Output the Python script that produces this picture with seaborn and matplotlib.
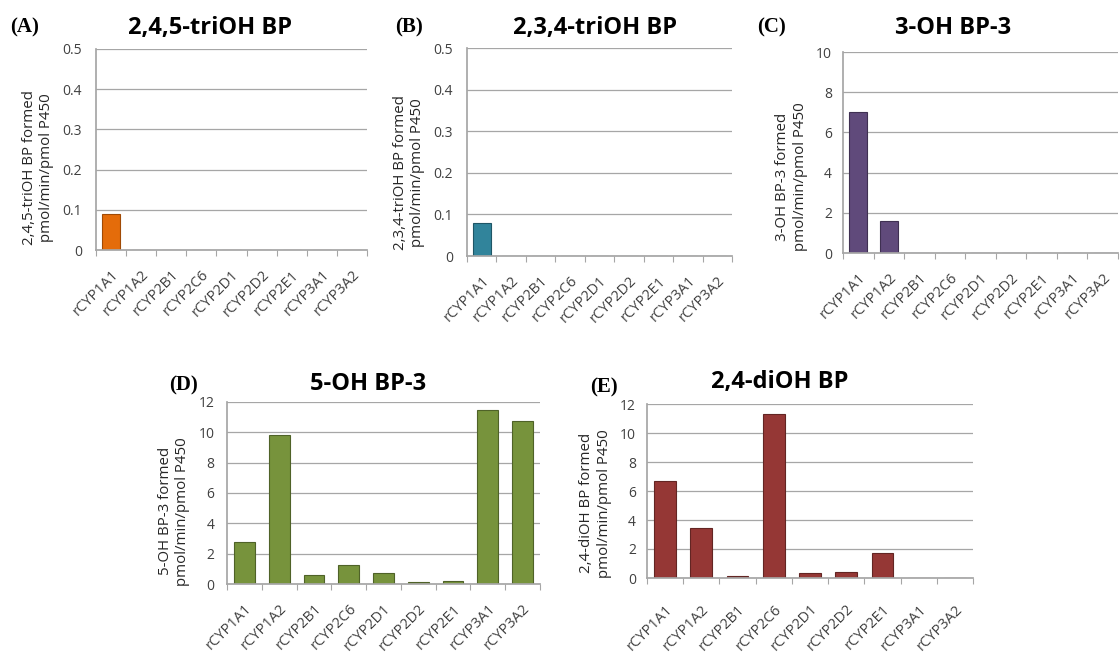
import matplotlib
matplotlib.use("Agg")
import matplotlib.pyplot as plt
import seaborn as sns
import pandas as pd
import numpy as np

categories = ["rCYP1A1", "rCYP1A2", "rCYP2B1", "rCYP2C6", "rCYP2D1",
              "rCYP2D2", "rCYP2E1", "rCYP3A1", "rCYP3A2"]

vals_245triOH = [0.09, 0, 0, 0, 0, 0, 0, 0, 0]
vals_234triOH = [0.079, 0, 0, 0, 0, 0, 0, 0, 0]
vals_3OH = [7.0, 1.6, 0, 0, 0, 0, 0, 0, 0]
vals_5OH = [2.74, 9.85, 0.57, 1.27, 0.75, 0.13, 0.22, 11.47, 10.77]
vals_24diOH = [6.66, 3.48, 0.12, 11.31, 0.35, 0.44, 1.75, 0, 0]

titles = ["2,4,5-triOH BP", "2,3,4-triOH BP", "3-OH BP-3", "5-OH BP-3", "2,4-diOH BP"]
panel_tags = ["(A)", "(B)", "(C)", "(D)", "(E)"]
ylabels = ["2,4,5-triOH BP formed\npmol/min/pmol P450",
           "2,3,4-triOH BP formed\npmol/min/pmol P450",
           "3-OH BP-3 formed\npmol/min/pmol P450",
           "5-OH BP-3 formed\npmol/min/pmol P450",
           "2,4-diOH BP formed\npmol/min/pmol P450"]
colors = ["#E46C0A", "#31849B", "#604A7B", "#77933C", "#953735"]
edges = ["#A04A05", "#1F5666", "#3F3052", "#4F6228", "#632523"]
ymaxes = [0.5, 0.5, 10, 12, 12]
ysteps = [0.1, 0.1, 2, 2, 2]
series = [vals_245triOH, vals_234triOH, vals_3OH, vals_5OH, vals_24diOH]

# pixel boxes: x0, x1, ytop, ybottom
boxes = [(96, 367, 49, 250), (467, 732, 48, 256), (843, 1118, 52, 253),
         (227, 540, 402, 584), (647, 973, 404, 578)]
title_x = [210, 595, 953, 368, 780]
title_y = [28, 28, 28, 384, 382]
tag_x = [10, 395, 757, 169, 590]
tag_y = [27, 27, 27, 385, 387]
ypads = [10, 10, 8, 9, 8]
xpads = [12.5, 12.5, 12.5, 12.5, 17]
ylab_pos = [0.41, 0.40, 0.38, 0.40, 0.43]

sns.set_theme(style="white")
plt.rcParams['font.family'] = ['Open Sans', 'DejaVu Sans']

W, H = 1120, 664
fig = plt.figure(figsize=(W / 100, H / 100), dpi=100)

for i in range(5):
    x0, x1, yt, yb = boxes[i]
    ax = fig.add_axes([x0 / W, 1 - yb / H, (x1 - x0) / W, (yb - yt) / H])
    df = pd.DataFrame({"cat": categories, "val": series[i]})
    sns.barplot(data=df, x="cat", y="val", ax=ax, color=colors[i],
                width=0.6, edgecolor=edges[i], linewidth=0.8, saturation=1)
    ax.set_xlim(-0.5, len(categories) - 0.5)
    ax.set_ylim(0, ymaxes[i])
    yt_vals = np.arange(0, ymaxes[i] + ysteps[i] / 2, ysteps[i])
    ax.set_yticks(yt_vals)
    if ymaxes[i] < 1:
        ax.set_yticklabels(["0"] + [f"{v:.1f}" for v in yt_vals[1:]])
    else:
        ax.set_yticklabels([f"{int(round(v))}" for v in yt_vals])
    ax.yaxis.grid(True, color="#A6A6A6", linewidth=0.9)
    ax.set_axisbelow(True)
    for s in ["top", "right"]:
        ax.spines[s].set_visible(False)
    ax.spines["left"].set_color("#A6A6A6")
    ax.spines["bottom"].set_color("#A6A6A6")
    ax.set_xticks(range(len(categories)))
    ax.set_xticklabels(categories, rotation=45, ha="right", rotation_mode="anchor",
                       fontsize=10.5, color="#404040")
    ax.set_xticks(np.arange(-0.5, len(categories), 1.0), minor=True)
    ax.tick_params(axis="x", which="major", length=0, pad=xpads[i])
    ax.tick_params(axis="x", which="minor", length=4, color="#A6A6A6", width=0.8,
                   bottom=True)
    ax.tick_params(axis="y", length=0, labelsize=10, labelcolor="#404040",
                   pad=ypads[i])
    ax.set_xlabel("")
    ax.set_ylabel(ylabels[i], fontsize=10.8, color="#262626", labelpad=6,
                  linespacing=1.2)
    ax.yaxis.label.set_y(ylab_pos[i])
    fig.text(title_x[i] / W, 1 - title_y[i] / H, titles[i], ha="center", va="center",
             fontsize=17, fontweight="bold", color="black")
    fig.text(tag_x[i] / W, 1 - tag_y[i] / H, panel_tags[i], ha="left",
             va="center", fontsize=15, fontweight="bold", color="black",
             family="Liberation Serif")

fig.savefig("out.png", dpi=100, facecolor="white")
